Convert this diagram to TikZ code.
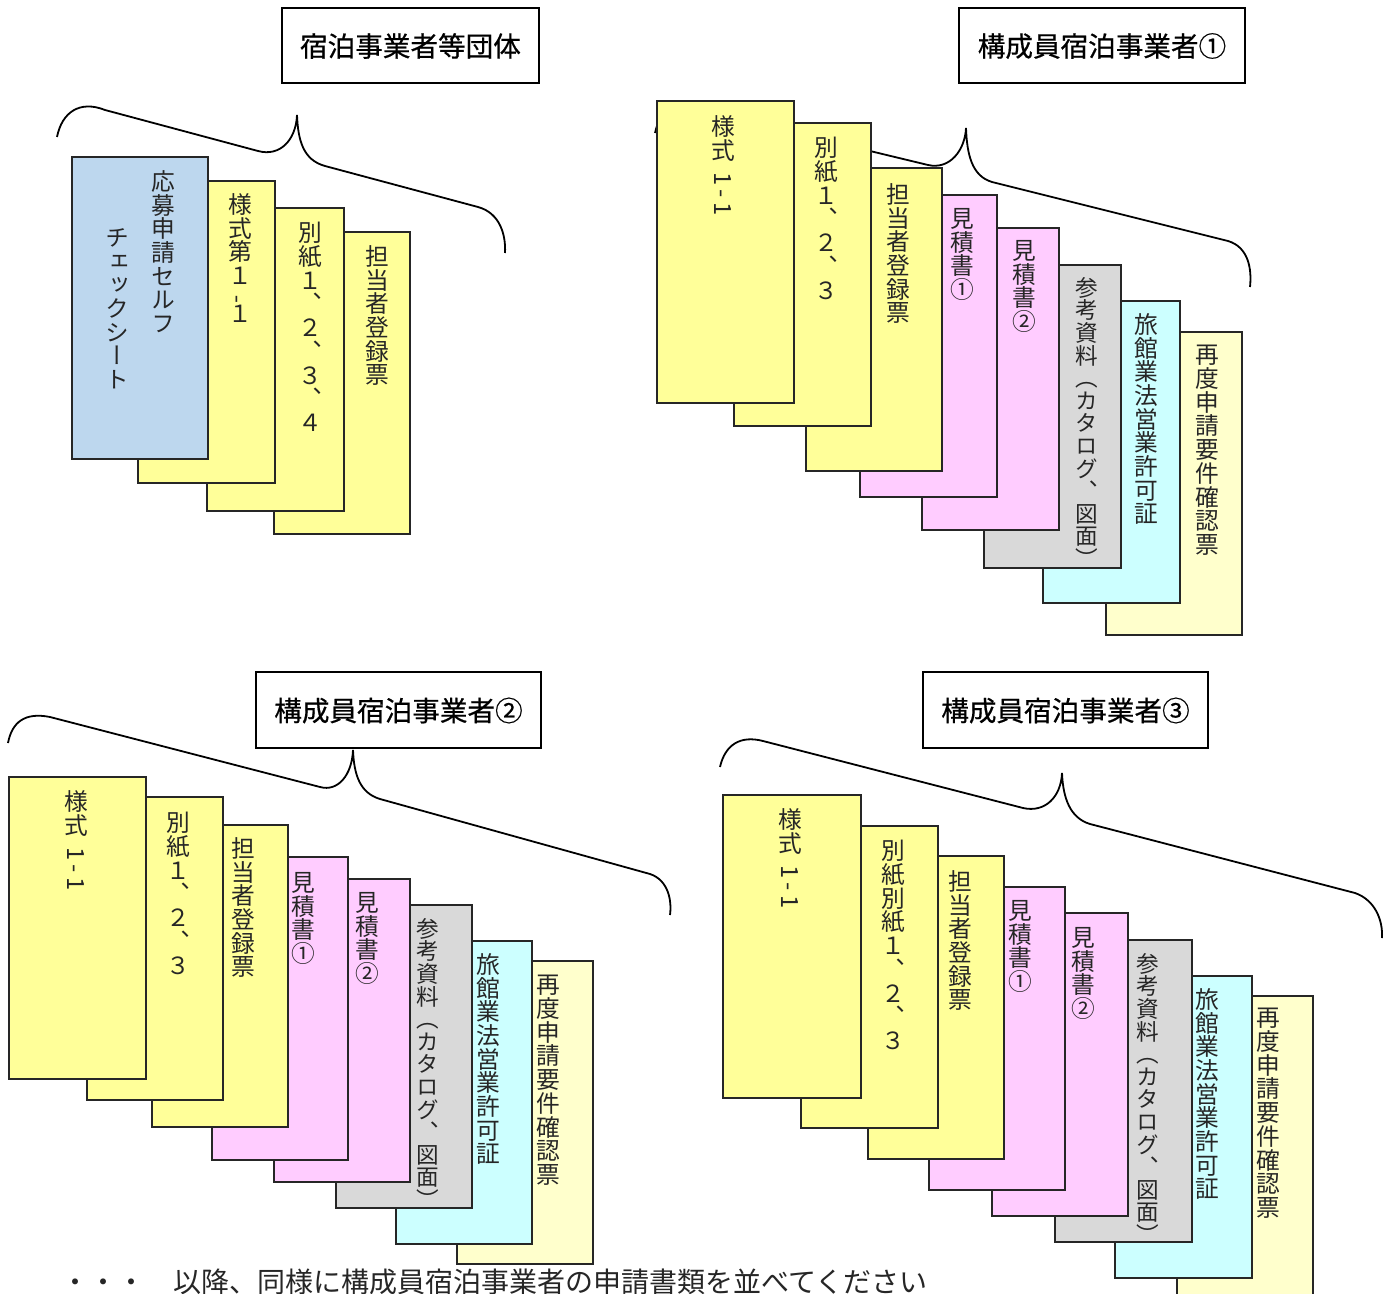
\documentclass[tikz,border=0pt]{standalone}
\usepackage{fontspec}
\usepackage{graphicx}
\newfontfamily\jp{Noto Sans CJK JP}
\newfontfamily\jpt[FakeBold=0.6]{Noto Sans CJK JP}
\newfontfamily\jpv[RawFeature=+vert]{Noto Sans CJK JP}
\newcommand\vfont{\jpv\fontsize{11.85pt}{11.85pt}\selectfont\lineskiplimit=-100pt\lineskip=0pt}
\newcommand\vfonts{\jpv\fontsize{11.3pt}{11.3pt}\selectfont\lineskiplimit=-100pt\lineskip=0pt}
\newcommand\rotone{\raisebox{0.45em}{\rotatebox{-90}{1\hspace{0.2em}-\hspace{0.2em}1}}}
\newcommand\sankou{参\\考\\資\\料\\（\\カ\\タ\\ロ\\グ\\、\\図\\面\\）}
\definecolor{cblue}{HTML}{BDD7EE}
\definecolor{cyel}{HTML}{FFFF99}
\definecolor{cpink}{HTML}{FFCCFF}
\definecolor{cgray}{HTML}{D9D9D9}
\definecolor{ccyan}{HTML}{CCFFFF}
\definecolor{clyel}{HTML}{FFFFCC}
\begin{document}
\begin{tikzpicture}[x=0.5pt,y=-0.5pt,
  card/.style={draw=black!85,line width=1.2pt},
  vt/.style={inner sep=0pt,anchor=north,align=center,font=\vfont,text=black!85},
  vts/.style={vt,font=\vfonts},
  brace/.style={draw=black,line width=0.9pt},
  titlebox/.style={draw=black,line width=1pt,inner sep=0pt,text height=1.1em,text depth=0pt,font=\jpt\fontsize{13.8pt}{13.8pt}\selectfont},
  note/.style={inner sep=0pt,anchor=base west,font=\jp\fontsize{14pt}{14pt}\selectfont,text=black!85}]
\useasboundingbox (0,0) rectangle (1391,1294);
\clip (0,0) rectangle (1391,1294);
\fill[white] (0,0) rectangle (1391,1294);

% ---------- titles ----------
\node[titlebox,minimum width=128.5pt,minimum height=37.5pt] (t1) at (410.5,45.5) {宿泊事業者等団体};
\node[titlebox,minimum width=143pt,minimum height=37.5pt] (t2) at (1102,45.5) {構成員宿泊事業者①};
\node[titlebox,minimum width=142.5pt,minimum height=38pt] (t3) at (398.5,710) {構成員宿泊事業者②};
\node[titlebox,minimum width=142.5pt,minimum height=38pt] (t4) at (1065.5,710) {構成員宿泊事業者③};

% ---------- braces ----------
\draw[brace] (57,137) .. controls (62,112) and (80,100) .. (105,110) -- (258,151)
  .. controls (280,157) and (296,140) .. (297,115)
  .. controls (298,140) and (303,160) .. (325,166) -- (478,207)
  .. controls (500,213) and (506,235) .. (505,253);
\draw[brace] (655,133) .. controls (660,110) and (675,100) .. (700,110) -- (928,165)
  .. controls (950,170) and (965,150) .. (966,128)
  .. controls (967,155) and (972,176) .. (992,182) -- (1228,241)
  .. controls (1248,247) and (1252,268) .. (1250,287);
\draw[brace] (8,743) .. controls (12,722) and (25,712) .. (50,717) -- (320,787)
  .. controls (338,792) and (352,775) .. (353,750)
  .. controls (354,775) and (360,793) .. (380,799) -- (650,874)
  .. controls (668,880) and (672,900) .. (670,915);
\draw[brace] (720,767) .. controls (725,745) and (740,735) .. (763,741) -- (1023,808)
  .. controls (1045,813) and (1061,797) .. (1062,773)
  .. controls (1063,798) and (1070,818) .. (1090,824) -- (1355,893)
  .. controls (1375,900) and (1383,920) .. (1382,938);

% ---------- group 1 ----------
\draw[card,fill=cyel]  (274,232) rectangle (410,534);
\draw[card,fill=cyel]  (207,208) rectangle (344,511);
\draw[card,fill=cyel]  (138,181) rectangle (275,483);
\draw[card,fill=cblue] (72,157)  rectangle (208,459);
\node[vt] (g1a1) at (163,170) {応\\募\\申\\請\\セ\\ル\\フ};
\node[vt] (g1a2) at (117,228) {チ\\ェ\\ッ\\ク\\シ\\ー\\ト};
\node[vt] (g1b) at (240,193) {様\\式\\第\\１\\[-0.2em]\rotatebox{90}{-}\\[-0.2em]１};
\node[vt] (g1c) at (310,222) {別\\紙\\１\\、\\２\\、\\３\\、\\４};
\node[vt] (g1d) at (377,245) {担\\当\\者\\登\\録\\票};

% ---------- group 2 ----------
\draw[card,fill=clyel] (1106,332) rectangle (1242,635);
\draw[card,fill=ccyan] (1043,301) rectangle (1180,603);
\draw[card,fill=cgray] (984,265)  rectangle (1121,568);
\draw[card,fill=cpink] (922,228)  rectangle (1059,530);
\draw[card,fill=cpink] (860,195)  rectangle (997,497);
\draw[card,fill=cyel]  (806,168)  rectangle (942,471);
\draw[card,fill=cyel]  (734,123)  rectangle (871,426);
\draw[card,fill=cyel]  (657,101)  rectangle (794,403);
\node[vt] (g2c1) at (723,115) {様\\式\\\rotone};
\node[vt] (g2c2) at (826,137) {別\\紙\\１\\、\\２\\、\\３};
\node[vt] (g2c3) at (898,183) {担\\当\\者\\登\\録\\票};
\node[vt] (g2c4) at (962,208) {見\\積\\書\\①};
\node[vt] (g2c5) at (1024,240) {見\\積\\書\\②};
\node[vts] (g2c6) at (1087,277) {\sankou};
\node[vt] (g2c7) at (1146,313) {旅\\館\\業\\法\\営\\業\\許\\可\\証};
\node[vt] (g2c8) at (1207,345) {再\\度\\申\\請\\要\\件\\確\\認\\票};

% ---------- group 3 ----------
\draw[card,fill=clyel] (457,961) rectangle (593,1264);
\draw[card,fill=ccyan] (396,941) rectangle (532,1244);
\draw[card,fill=cgray] (336,905) rectangle (472,1208);
\draw[card,fill=cpink] (274,879) rectangle (410,1182);
\draw[card,fill=cpink] (212,857) rectangle (348,1160);
\draw[card,fill=cyel]  (152,825) rectangle (288,1127);
\draw[card,fill=cyel]  (87,797)  rectangle (223,1100);
\draw[card,fill=cyel]  (9,777)   rectangle (146,1079);
\node[vt] (g3c1) at (76,790) {様\\式\\\rotone};
\node[vt] (g3c2) at (178,812) {別\\紙\\１\\、\\２\\、\\３};
\node[vt] (g3c3) at (243,837) {担\\当\\者\\登\\録\\票};
\node[vt] (g3c4) at (303,872) {見\\積\\書\\①};
\node[vt] (g3c5) at (367,892) {見\\積\\書\\②};
\node[vts] (g3c6) at (428,918) {\sankou};
\node[vt] (g3c7) at (488,953) {旅\\館\\業\\法\\営\\業\\許\\可\\証};
\node[vt] (g3c8) at (548,975) {再\\度\\申\\請\\要\\件\\確\\認\\票};

% ---------- group 4 ----------
\draw[card,fill=clyel] (1177,996) rectangle (1313,1298);
\draw[card,fill=ccyan] (1115,976) rectangle (1252,1278);
\draw[card,fill=cgray] (1055,940) rectangle (1192,1242);
\draw[card,fill=cpink] (992,913)  rectangle (1128,1216);
\draw[card,fill=cpink] (929,887)  rectangle (1065,1190);
\draw[card,fill=cyel]  (868,856)  rectangle (1004,1159);
\draw[card,fill=cyel]  (801,826)  rectangle (938,1128);
\draw[card,fill=cyel]  (723,795)  rectangle (861,1098);
\node[vt] (g4c1) at (790,808) {様\\式\\\rotone};
\node[vt] (g4c2) at (893,840) {別\\紙\\別\\紙\\１\\、\\２\\、\\３};
\node[vt] (g4c3) at (960,870) {担\\当\\者\\登\\録\\票};
\node[vt] (g4c4) at (1020,900) {見\\積\\書\\①};
\node[vt] (g4c5) at (1083,927) {見\\積\\書\\②};
\node[vts] (g4c6) at (1148,953) {\sankou};
\node[vt] (g4c7) at (1207,988) {旅\\館\\業\\法\\営\\業\\許\\可\\証};
\node[vt] (g4c8) at (1268,1008) {再\\度\\申\\請\\要\\件\\確\\認\\票};

% ---------- note ----------
\node[note] (nt) at (61,1292) {・・・　以降、同様に構成員宿泊事業者の申請書類を並べてください};
\end{tikzpicture}
\end{document}
